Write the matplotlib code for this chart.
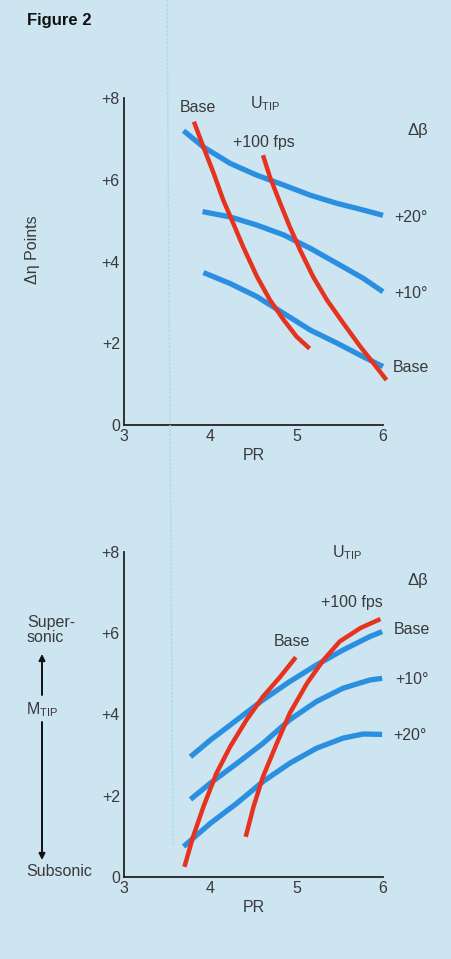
import matplotlib.pyplot as plt
from matplotlib.lines import Line2D

plt.rcParams['font.family'] = ['Liberation Sans', 'DejaVu Sans']

BG = "#cde4f1"
BLUE = "#2a8fe0"
RED = "#e63320"
INK = "#222222"
GREY = "#3a3a3a"

# --- top panel: efficiency gain vs pressure ratio ---
eff_pr_b20 = [3.69, 3.92, 4.23, 4.54, 4.85, 5.16, 5.47, 5.77, 6.00]
eff_b20 = [7.20, 6.80, 6.40, 6.11, 5.87, 5.62, 5.42, 5.26, 5.13]
eff_pr_b10 = [3.91, 4.23, 4.54, 4.85, 5.16, 5.47, 5.77, 6.00]
eff_b10 = [5.22, 5.09, 4.89, 4.65, 4.32, 3.95, 3.59, 3.26]
eff_pr_b0 = [3.92, 4.23, 4.54, 4.85, 5.16, 5.47, 5.77, 6.00]
eff_b0 = [3.73, 3.46, 3.14, 2.73, 2.32, 2.00, 1.67, 1.43]
eff_pr_ubase = [3.81, 3.92, 4.04, 4.15, 4.25, 4.38, 4.54, 4.69, 4.85, 5.00, 5.15]
eff_ubase = [7.42, 6.80, 6.15, 5.50, 5.01, 4.36, 3.63, 3.06, 2.57, 2.16, 1.87]
eff_pr_u100 = [4.61, 4.69, 4.81, 4.92, 5.04, 5.19, 5.35, 5.54, 5.74, 5.89, 6.04]
eff_u100 = [6.60, 6.07, 5.42, 4.85, 4.28, 3.63, 3.06, 2.49, 1.91, 1.51, 1.10]

# --- bottom panel: tip Mach vs pressure ratio ---
mach_pr_b0 = [3.77, 4.00, 4.31, 4.61, 4.92, 5.23, 5.54, 5.85, 5.99]
mach_b0 = [2.96, 3.37, 3.87, 4.36, 4.81, 5.22, 5.59, 5.92, 6.04]
mach_pr_b10 = [3.77, 4.00, 4.31, 4.61, 4.92, 5.23, 5.54, 5.85, 5.99]
mach_b10 = [1.91, 2.31, 2.80, 3.29, 3.87, 4.32, 4.65, 4.85, 4.89]
mach_pr_b20 = [3.69, 4.00, 4.31, 4.61, 4.92, 5.23, 5.54, 5.77, 5.99]
mach_b20 = [0.75, 1.32, 1.82, 2.35, 2.80, 3.17, 3.42, 3.52, 3.51]
mach_pr_ubase = [3.70, 3.80, 3.92, 4.07, 4.23, 4.42, 4.61, 4.81, 4.99]
mach_ubase = [0.25, 0.99, 1.73, 2.55, 3.21, 3.87, 4.44, 4.93, 5.41]
mach_pr_u100 = [4.41, 4.50, 4.61, 4.77, 4.92, 5.12, 5.31, 5.50, 5.74, 5.97]
mach_u100 = [0.99, 1.73, 2.47, 3.29, 4.03, 4.77, 5.34, 5.80, 6.13, 6.35]

x_ticks = [3, 4, 5, 6]
y_ticks = [0, 2, 4, 6, 8]
y_ticklabels = ["0", "+2", "+4", "+6", "+8"]

FS = 11.5

fig = plt.figure(figsize=(4.52, 9.59), dpi=100, facecolor=BG)


def panel(rect):
    ax = fig.add_axes(rect)
    ax.set_facecolor(BG)
    ax.set_xlim(3, 6)
    ax.set_ylim(0, 8)
    for s in ["top", "right"]:
        ax.spines[s].set_visible(False)
    for s in ["left", "bottom"]:
        ax.spines[s].set_color(INK)
        ax.spines[s].set_linewidth(1.3)
    ax.set_xticks(x_ticks)
    ax.set_xticklabels([str(t) for t in x_ticks])
    ax.set_yticks(y_ticks)
    ax.set_yticklabels(y_ticklabels)
    ax.tick_params(length=0, labelsize=FS, colors=GREY, pad=3)
    ax.set_xlabel("PR", fontsize=FS, color=GREY, labelpad=3)
    return ax


def curve(ax, x, y, color, lw):
    ax.plot(x, y, color=color, lw=lw, solid_capstyle="butt",
            solid_joinstyle="round", clip_on=False)


def ftext(px, py, s, **kw):
    kw.setdefault("fontsize", FS)
    kw.setdefault("color", GREY)
    kw.setdefault("ha", "center")
    fig.text(px / 452, 1 - py / 959, s, va="center", **kw)


# faint fold line of the scan
fig.add_artist(Line2D([167 / 452, 173 / 452], [1.0, 1 - 845 / 959],
                      color="#a6dcf2", lw=1.0, ls=(0, (2, 1))))

fig.text(27 / 452, 1 - 20 / 959, "Figure 2", fontsize=12, fontweight="bold",
         color="#111111", va="center", ha="left")

# top
ax1 = panel([124 / 452, 1 - 425 / 959, 259 / 452, 327 / 959])
curve(ax1, eff_pr_b20, eff_b20, BLUE, 3.8)
curve(ax1, eff_pr_b10, eff_b10, BLUE, 3.8)
curve(ax1, eff_pr_b0, eff_b0, BLUE, 3.8)
curve(ax1, eff_pr_ubase, eff_ubase, RED, 3.2)
curve(ax1, eff_pr_u100, eff_u100, RED, 3.2)
ftext(33, 250, "\u0394\u03b7 Points", rotation=90)

ftext(198, 107, "Base")
ftext(265, 104, "U$_{\\mathregular{TIP}}$")
ftext(264, 142, "+100 fps")
ftext(418, 130, "\u0394\u03b2", fontsize=12)
ftext(411, 217, "+20\u00b0")
ftext(411, 293, "+10\u00b0")
ftext(411, 367, "Base")

# bottom
ax2 = panel([124 / 452, 1 - 877 / 959, 259 / 452, 325 / 959])
curve(ax2, mach_pr_b0, mach_b0, BLUE, 3.8)
curve(ax2, mach_pr_b10, mach_b10, BLUE, 3.8)
curve(ax2, mach_pr_b20, mach_b20, BLUE, 3.8)
curve(ax2, mach_pr_ubase, mach_ubase, RED, 3.2)
curve(ax2, mach_pr_u100, mach_u100, RED, 3.2)

ftext(347, 553, "U$_{\\mathregular{TIP}}$")
ftext(418, 580, "\u0394\u03b2", fontsize=12)
ftext(352, 603, "+100 fps")
ftext(412, 629, "Base")
ftext(292, 642, "Base")
ftext(412, 680, "+10\u00b0")
ftext(410, 735, "+20\u00b0")

ftext(27, 630, "Super-\nsonic", ha="left", linespacing=0.95)
ftext(26, 710, "M$_{\\mathregular{TIP}}$", ha="left")
ftext(26, 872, "Subsonic", ha="left")

for tail, head in [(695, 654), (722, 860)]:
    fig.add_artist(plt.Annotation("", xy=(42 / 452, 1 - head / 959),
                                  xytext=(42 / 452, 1 - tail / 959),
                                  xycoords="figure fraction",
                                  arrowprops=dict(arrowstyle="-|>", color="#111111",
                                                  lw=1.4, mutation_scale=9,
                                                  shrinkA=0, shrinkB=0)))

fig.savefig("out.png", dpi=100, facecolor=BG)
